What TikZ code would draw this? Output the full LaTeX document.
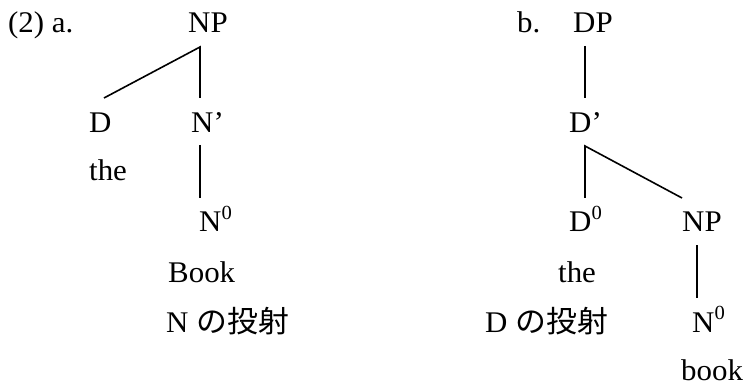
\documentclass[tikz,border=0pt]{standalone}
\usepackage{fontspec}
\setmainfont{Liberation Serif}[FakeStretch=1.03]
\newfontfamily\jp{Noto Sans CJK JP}[FakeStretch=1.03]
\newcommand{\supz}{\raisebox{13pt}{\fontsize{20}{20}\selectfont 0}}
\begin{document}
\begin{tikzpicture}[x=1pt,y=-1pt,
  lbl/.style={inner sep=0pt,anchor=base west,font=\fontsize{30}{36}\selectfont},
  edge/.style={line width=1.6pt}]
\useasboundingbox (0,0) rectangle (745,385);
% tree a
\node[lbl] (ta) at (8,33) {(2) a.};
\node[lbl] (npa) at (188,33) {NP};
\node[lbl] (da) at (89,133) {D};
\node[lbl] (nba) at (191,133) {N’};
\node[lbl] (thea) at (89,181) {the};
\node[lbl] (n0a) at (199,232) {N\supz};
\node[lbl] (book1) at (168,282) {Book};
\node[lbl] (proja) at (166,332) {N {\jp の投射}};
\coordinate (a1) at (200,47);
\coordinate (a2) at (104,98);
\coordinate (a3) at (200,98);
\coordinate (a4) at (200,145);
\coordinate (a5) at (200,198);
\draw[edge] (a2) -- (a1) -- (a3);
\draw[edge] (a4) -- (a5);
% tree b
\node[lbl] (tb) at (517,33) {b.};
\node[lbl] (dpb) at (573,33) {DP};
\node[lbl] (dbb) at (569,133) {D’};
\node[lbl] (d0b) at (569,232) {D\supz};
\node[lbl] (npb) at (682,232) {NP};
\node[lbl] (theb) at (558,282) {the};
\node[lbl] (projb) at (485,332) {D {\jp の投射}};
\node[lbl] (n0b) at (692,332) {N\supz};
\node[lbl] (bookb) at (681,380) {book};
\coordinate (b1) at (585,46);
\coordinate (b2) at (585,98);
\coordinate (b3) at (585,146);
\coordinate (b4) at (585,198);
\coordinate (b5) at (682,198);
\coordinate (b6) at (697,245);
\coordinate (b7) at (697,298);
\draw[edge] (b1) -- (b2);
\draw[edge] (b4) -- (b3) -- (b5);
\draw[edge] (b6) -- (b7);
\end{tikzpicture}
\end{document}
